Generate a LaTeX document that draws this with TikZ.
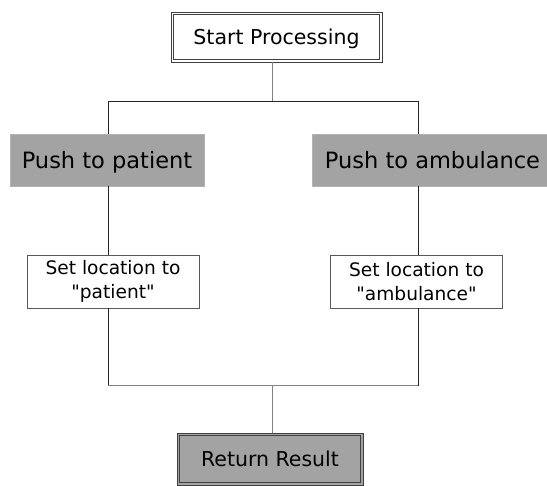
\documentclass[tikz,border=0pt]{standalone}
\usepackage{fontspec}
\setmainfont{DejaVu Sans}[Ligatures=TeXOff]
\begin{document}
\begin{tikzpicture}[x=1pt,y=-1pt,
  every node/.style={inner sep=0pt, outer sep=0pt, align=center},
  framed/.style={minimum width=211pt, minimum height=50pt, text depth=0pt,
    font=\fontsize{20.5}{24}\selectfont},
  rim/.style={draw=black!75, line width=0.8pt},
  pushbox/.style={fill=black!36, draw=black!30, line width=0.5pt, text depth=0pt,
    minimum height=52pt, font=\fontsize{22.5}{26}\selectfont},
  setbox/.style={draw=black!65, line width=0.8pt, fill=white,
    minimum width=172pt, minimum height=53pt, font=\fontsize{18.6}{24}\selectfont},
  wire/.style={line width=0.9pt, draw=black!85},
  wiregray/.style={line width=1pt, draw=black!50}
]
\useasboundingbox (0,0) rectangle (547,486);

% boxes
\node[framed] (start) at (276.5,37) {Start Processing};
\node[pushbox, minimum width=194pt] (pushP) at (107,160) {Push to patient};
\node[pushbox, minimum width=235pt] (pushA) at (429.5,160) {\hspace*{6pt}Push to ambulance};
\node[setbox] (setP) at (113,281.5) {Set location to\\"patient"};
\node[setbox] (setA) at (416.5,281.5) {Set location to\\"ambulance"};
\node[framed, fill=black!36, minimum width=186pt, minimum height=52pt] (ret) at (270,459) {Return Result};

% double frames of the start and end boxes
\foreach \b in {start, ret} {
  \draw[rim] (\b.north west) rectangle (\b.south east);
  \draw[rim] ([shift={(2.4pt,-2.4pt)}]\b.north west) rectangle ([shift={(-2.4pt,2.4pt)}]\b.south east);
}

% branch and join points
\coordinate (split) at (272,101);
\coordinate (splitL) at (108,101);
\coordinate (splitR) at (418,101);
\coordinate (join) at (272,386);
\coordinate (joinL) at (108,386);
\coordinate (joinR) at (418,386);

% fork
\draw[wiregray] (start.south -| split) -- (split);
\draw[wire] (splitL) -- (splitR);
\draw[wire] (splitL) -- (splitL |- pushP.north);
\draw[wire] (splitR) -- (splitR |- pushA.north);

% branches
\draw[wire] (splitL |- pushP.south) -- (splitL |- setP.north);
\draw[wire] (splitR |- pushA.south) -- (splitR |- setA.north);
\draw[wire] (splitL |- setP.south) -- (joinL);
\draw[wire] (splitR |- setA.south) -- (joinR);

% merge
\draw[wiregray] (joinL) -- (joinR);
\draw[wiregray] (join) -- (join |- ret.north);
\end{tikzpicture}
\end{document}
